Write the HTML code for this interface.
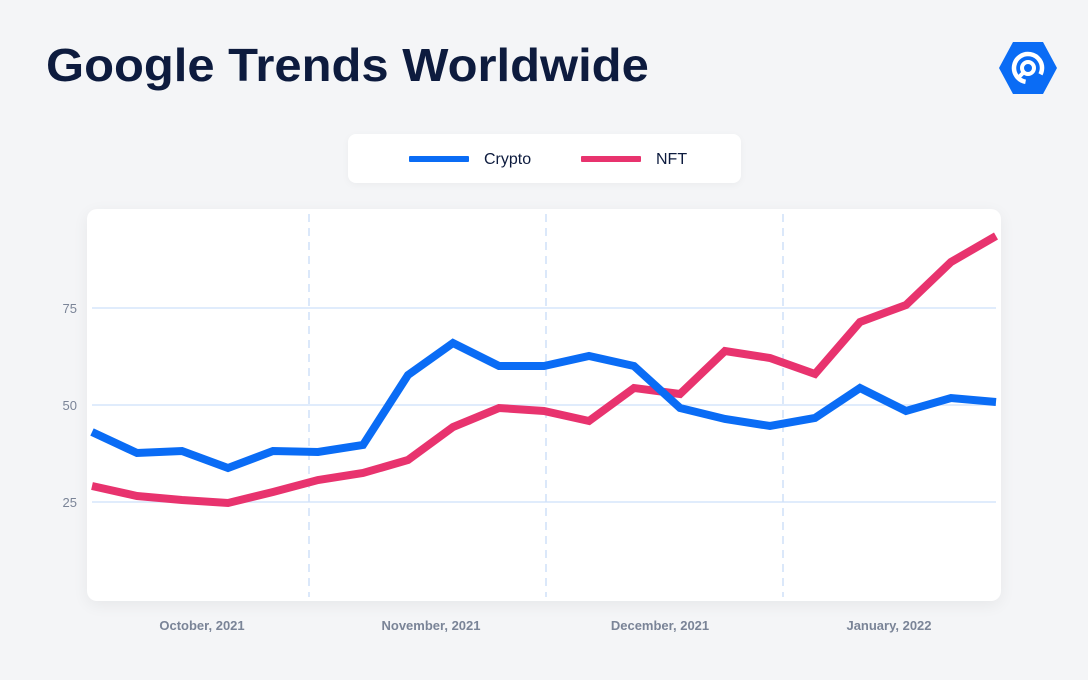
<!DOCTYPE html>
<html><head><style>
body{margin:0;width:1088px;height:680px;background:#f4f5f7;font-family:"Liberation Sans",sans-serif;overflow:hidden;position:relative}
h1{position:absolute;left:46px;top:38px;margin:0;font-size:46px;font-weight:700;color:#0d1b3e;letter-spacing:0;transform:scaleX(1.064);transform-origin:left top;white-space:nowrap}
.leg{position:absolute;left:348px;top:134px;width:393px;height:49px;background:#fff;border-radius:8px;box-shadow:0 2px 8px rgba(0,0,0,0.04)}
.card{position:absolute;left:87px;top:209px;width:914px;height:392px;background:#fff;border-radius:10px;box-shadow:0 4px 16px rgba(0,0,0,0.06)}
</style></head><body>
<h1>Google Trends Worldwide</h1>
<svg style="position:absolute;left:998px;top:40px" width="60" height="56" viewBox="0 0 60 56">
<polygon points="15,2 45,2 59,28 45,54 15,54 1,28" fill="#0a6cf5"/>
<circle cx="30" cy="28" r="14" fill="none" stroke="#fff" stroke-width="4.5" stroke-dasharray="70 18" transform="rotate(100 30 28)"/>
<circle cx="30" cy="28" r="6" fill="none" stroke="#fff" stroke-width="4"/>
<line x1="25" y1="33" x2="20" y2="38" stroke="#fff" stroke-width="4"/>
</svg>
<div class="leg">
<div style="position:absolute;left:61px;top:22px;width:60px;height:6px;background:#0a6cf5;border-radius:1px"></div>
<div style="position:absolute;left:136px;top:17px;font-size:16px;color:#0d1b3e">Crypto</div>
<div style="position:absolute;left:233px;top:22px;width:60px;height:6px;background:#e8336e;border-radius:1px"></div>
<div style="position:absolute;left:308px;top:17px;font-size:16px;color:#0d1b3e">NFT</div>
</div>
<div class="card"></div>
<svg style="position:absolute;left:0;top:0" width="1088" height="680">
<g stroke="#d6e6fb" stroke-width="1.5">
<line x1="92" y1="308" x2="996" y2="308"/><line x1="92" y1="405" x2="996" y2="405"/><line x1="92" y1="502" x2="996" y2="502"/>
</g>
<g stroke="#cfe0f8" stroke-width="1.5" stroke-dasharray="8 6">
<line x1="309" y1="214" x2="309" y2="597"/><line x1="546" y1="214" x2="546" y2="597"/><line x1="783" y1="214" x2="783" y2="597"/>
</g>
<g font-size="13" fill="#7a8497" text-anchor="end"><text x="77" y="313">75</text><text x="77" y="410">50</text><text x="77" y="507">25</text></g>
<g font-size="13" fill="#7a8497" font-weight="700" text-anchor="middle"><text x="202" y="630">October, 2021</text><text x="431" y="630">November, 2021</text><text x="660" y="630">December, 2021</text><text x="889" y="630">January, 2022</text></g>
<polyline fill="none" stroke="#e8336e" stroke-width="8" stroke-linejoin="miter" points="92,486 137,496 182,500 228,503 273,492 318,480 363,473 408,460 453,427 499,408 544,411 589,421 634,388 680,394 725,351 770,358 815,374 860,322 906,305 951,262 996,236"/>
<polyline fill="none" stroke="#0a6cf5" stroke-width="8" stroke-linejoin="miter" points="92,432 137,453 182,451 228,468 273,451 318,452 363,445 408,375 453,343 499,366 544,366 589,356 634,366 680,408 725,419 770,426 815,418 860,388 906,411 951,398 996,402"/>
</svg>
</body></html>
